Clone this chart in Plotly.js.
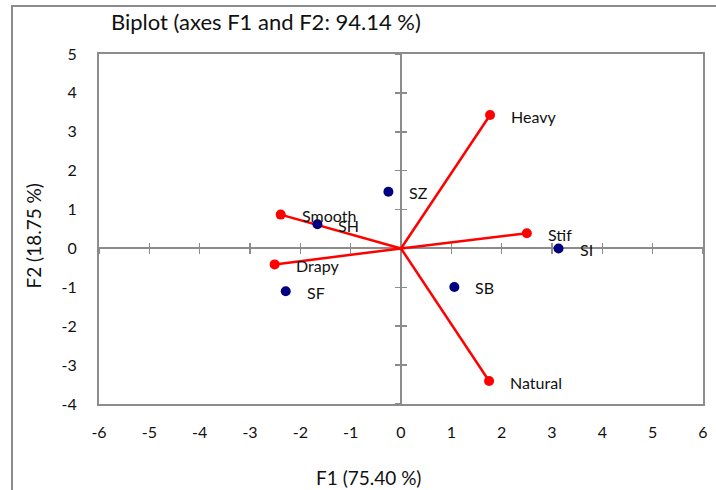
<!DOCTYPE html>
<html>
<head>
<meta charset="utf-8">
<script src="https://cdn.plot.ly/plotly-3.0.1.min.js"></script>
<style>
  html, body { margin: 0; padding: 0; background: #fff; }
  #wrap { position: relative; width: 716px; height: 490px; overflow: hidden; }
  #chart { width: 716px; height: 490px; }
  #frame { position: absolute; left: 11px; top: 5px; width: 720px; height: 500px;
           border-left: 2px solid #8c8c8c; border-top: 2px solid #8c8c8c; pointer-events: none; }
</style>
</head>
<body>
<div id="wrap">
  <div id="chart"></div>
  <div id="frame"></div>
</div>
<script>
// Variables (red vectors from the origin)
const varNames = ['Heavy', 'Stif', 'Natural', 'Smooth', 'Drapy'];
const varF1 = [1.77, 2.50, 1.75, -2.39, -2.51];
const varF2 = [3.43, 0.39, -3.41, 0.87, -0.41];

// Observations (navy points)
const obsNames = ['SZ', 'SH', 'SI', 'SF', 'SB'];
const obsF1 = [-0.25, -1.66, 3.13, -2.29, 1.06];
const obsF2 = [1.46, 0.62, 0.00, -1.10, -0.99];

// Axis ranges and ticks
const xRange = [-6, 6];
const yRange = [-4, 5];
const xTicks = [-6, -5, -4, -3, -2, -1, 0, 1, 2, 3, 4, 5, 6];
const yTicks = [-4, -3, -2, -1, 0, 1, 2, 3, 4, 5];
const xTickText = ['-6', '-5', '-4', '-3', '-2', '-1', '0', '1', '2', '3', '4', '5', '6'];
const yTickText = ['-4', '-3', '-2', '-1', '0', '1', '2', '3', '4', '5'];

const FONT = 'Lato, "Open Sans", sans-serif';
const GRAY = '#8c8c8c';
const TXT = '#111111';

// Vector segments: origin -> variable, separated by gaps
const segX = [], segY = [];
varF1.forEach((v, i) => { segX.push(0, v, null); segY.push(0, varF2[i], null); });

const traces = [
  // placeholders so the zero-crossing axes get drawn
  { x: [null], y: [null], xaxis: 'x2', yaxis: 'y2', mode: 'markers', hoverinfo: 'skip', showlegend: false },
  { x: [null], y: [null], xaxis: 'x3', yaxis: 'y3', mode: 'markers', hoverinfo: 'skip', showlegend: false },
  { x: segX, y: segY, mode: 'lines', line: { color: '#ff0000', width: 2.5 },
    hoverinfo: 'skip', showlegend: false },
  { x: varF1, y: varF2, text: varNames, mode: 'markers',
    marker: { color: '#ff0000', size: 10 }, showlegend: false },
  { x: obsF1, y: obsF2, text: obsNames, mode: 'markers',
    marker: { color: '#000080', size: 10 }, showlegend: false }
];

const labelOf = (xs, ys, names) => names.map((n, i) => ({
  x: xs[i], y: ys[i], xref: 'x', yref: 'y', text: n, showarrow: false,
  xanchor: 'left', yanchor: 'middle', xshift: 19, yshift: -1,
  font: { family: FONT, size: 16, color: TXT }
}));

// zero-crossing axes: position as fraction of the plot area
const xZeroPos = -yRange[0] / (yRange[1] - yRange[0]);
const yZeroPos = -xRange[0] / (xRange[1] - xRange[0]);

const crossAxis = (range, ticks, pos, inside, showline, over) => ({
  overlaying: over, range: range, anchor: 'free', position: pos,
  tickmode: 'array', tickvals: ticks, showticklabels: false,
  ticks: inside ? 'inside' : 'outside', ticklen: 5, tickwidth: 1.5, tickcolor: GRAY,
  showline: showline, linecolor: GRAY, linewidth: 2,
  showgrid: false, zeroline: false, layer: 'below traces', fixedrange: true
});

const layout = {
  width: 716, height: 490,
  margin: { l: 99, r: 13, t: 54, b: 86 },
  paper_bgcolor: '#ffffff', plot_bgcolor: '#ffffff',
  font: { family: FONT, size: 16, color: TXT },
  title: { text: 'Biplot (axes F1 and F2: 94.14 %)', xref: 'container', yref: 'container',
           x: 0.155, xanchor: 'left', y: 0.955, yanchor: 'middle',
           font: { family: FONT, size: 22, color: TXT } },
  xaxis: { range: xRange, tickmode: 'array', tickvals: xTicks, ticktext: xTickText, ticks: '',
           showline: true, mirror: true, linecolor: GRAY, linewidth: 2,
           showgrid: false, zeroline: false, ticklabelstandoff: 13,
           tickfont: { family: FONT, size: 16, color: TXT }, fixedrange: true },
  yaxis: { range: yRange, tickmode: 'array', tickvals: yTicks, ticktext: yTickText, ticks: '',
           showline: true, mirror: true, linecolor: GRAY, linewidth: 2,
           showgrid: false, zeroline: false, ticklabelstandoff: 17,
           tickfont: { family: FONT, size: 16, color: TXT }, fixedrange: true },
  xaxis2: crossAxis(xRange, xTicks, xZeroPos, false, true, 'x'),
  yaxis2: crossAxis(yRange, yTicks, yZeroPos, false, true, 'y'),
  xaxis3: crossAxis(xRange, xTicks, xZeroPos, true, false, 'x'),
  yaxis3: crossAxis(yRange, yTicks, yZeroPos, true, false, 'y'),
  annotations: [
    ...labelOf(varF1, varF2, varNames),
    ...labelOf(obsF1, obsF2, obsNames),
    { text: 'F1 (75.40 %)', xref: 'paper', yref: 'paper', x: 0.446, y: -0.209,
      xanchor: 'center', yanchor: 'middle', showarrow: false,
      font: { family: FONT, size: 19, color: TXT } },
    { text: 'F2 (18.75 %)', xref: 'paper', yref: 'paper', x: -0.110, y: 0.48,
      xanchor: 'center', yanchor: 'middle', textangle: -90, showarrow: false,
      font: { family: FONT, size: 19, color: TXT } }
  ]
};

Plotly.newPlot('chart', traces, layout, { displayModeBar: false, staticPlot: true });
</script>
</body>
</html>
